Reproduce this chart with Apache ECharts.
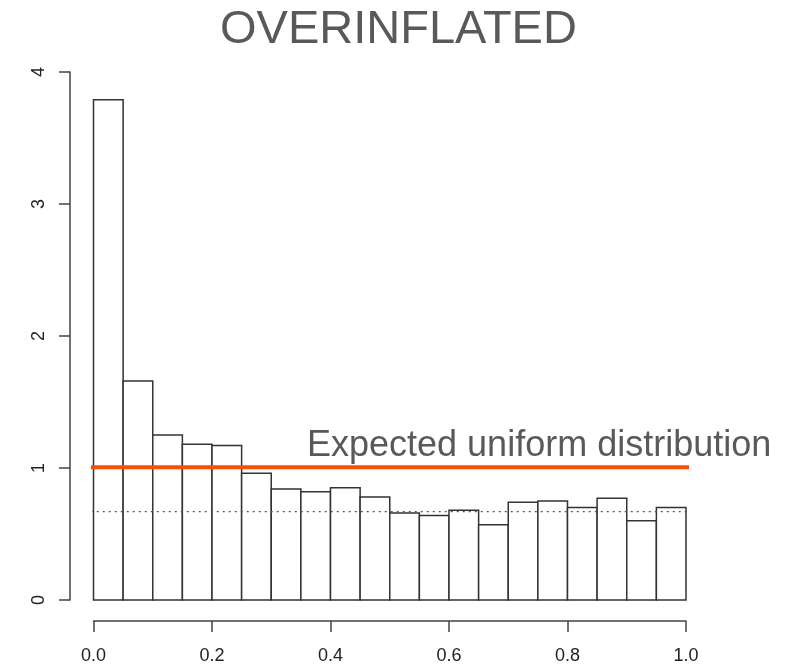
<!DOCTYPE html>
<html>
<head>
<meta charset="utf-8">
<script src="https://cdn.jsdelivr.net/npm/echarts@6/dist/echarts.min.js"></script>
<style>
html,body{margin:0;padding:0;background:#fff;}
#chart{width:809px;height:665px;}
</style>
</head>
<body>
<div id="chart"></div>
<script>
// Histogram bin edges (x) and density values (y)
var binStarts = [0.00,0.05,0.10,0.15,0.20,0.25,0.30,0.35,0.40,0.45,0.50,0.55,0.60,0.65,0.70,0.75,0.80,0.85,0.90,0.95];
var binEnds   = [0.05,0.10,0.15,0.20,0.25,0.30,0.35,0.40,0.45,0.50,0.55,0.60,0.65,0.70,0.75,0.80,0.85,0.90,0.95,1.00];
var densities = [3.79,1.66,1.25,1.18,1.17,0.96,0.84,0.82,0.85,0.78,0.66,0.64,0.68,0.57,0.74,0.75,0.70,0.77,0.60,0.70];

// Reference lines
var expectedX = [-0.063, 1.044];
var expectedY = 1.005;
var dottedX = [-0.035, 1.038];
var dottedY = 0.67;

// Tick labels
var xTicks = ['0.0','0.2','0.4','0.6','0.8','1.0'];
var yTicks = ['0','1','2','3','4'];

var titleText = 'OVERINFLATED';
var annotationText = 'Expected uniform distribution';

var FONT = "'Liberation Sans', Arial, sans-serif";

var barData = binStarts.map(function (s, i) { return [s, binEnds[i], densities[i]]; });

var chart = echarts.init(document.getElementById('chart'), null, {renderer: 'canvas'});
chart.setOption({
  animation: false,
  backgroundColor: '#ffffff',
  title: [
    {
      text: titleText, left: 215, top: 2,
      textStyle: {fontFamily: FONT, fontSize: 47, fontWeight: 'normal', color: '#58595b'}
    },
    {
      text: annotationText, left: 302, top: 423,
      textStyle: {fontFamily: FONT, fontSize: 36, fontWeight: 'normal', color: '#58595b'}
    }
  ],
  grid: {left: 93.5, right: 123, top: 72, bottom: 65, containLabel: false},
  xAxis: {
    type: 'value', min: 0, max: 1, interval: 0.2, offset: 21,
    axisLine: {show: true, onZero: false, lineStyle: {color: '#444', width: 1.5}},
    axisTick: {show: true, length: 11, lineStyle: {color: '#444', width: 1.5}},
    axisLabel: {
      margin: 26, fontFamily: FONT, fontSize: 18, color: '#222',
      formatter: function (v) { return xTicks[Math.round(v / 0.2)]; }
    },
    splitLine: {show: false}
  },
  yAxis: {
    type: 'value', min: 0, max: 4, interval: 1, offset: 23.5,
    axisLine: {show: true, onZero: false, lineStyle: {color: '#444', width: 1.5}},
    axisTick: {show: true, length: 11, lineStyle: {color: '#444', width: 1.5}},
    axisLabel: {
      margin: 22, rotate: 90, fontFamily: FONT, fontSize: 18, color: '#222',
      formatter: function (v) { return yTicks[Math.round(v)]; }
    },
    splitLine: {show: false}
  },
  series: [
    {
      type: 'custom',
      data: barData,
      encode: {x: [0, 1], y: 2},
      renderItem: function (params, api) {
        var p0 = api.coord([api.value(0), 0]);
        var p1 = api.coord([api.value(1), api.value(2)]);
        return {
          type: 'rect',
          shape: {x: p0[0], y: p1[1], width: p1[0] - p0[0], height: p0[1] - p1[1]},
          style: {fill: '#ffffff', stroke: '#333', lineWidth: 1.5}
        };
      },
      z: 2
    },
    {
      type: 'line',
      data: [[dottedX[0], dottedY], [dottedX[1], dottedY]],
      symbol: 'none', clip: false, silent: true,
      lineStyle: {color: '#555', width: 1.2, type: [2, 4]},
      z: 3
    },
    {
      type: 'line',
      data: [[expectedX[0], expectedY], [expectedX[1], expectedY]],
      symbol: 'none', clip: false, silent: true,
      lineStyle: {color: '#fc4c02', width: 4},
      z: 4
    }
  ]
});
</script>
</body>
</html>
